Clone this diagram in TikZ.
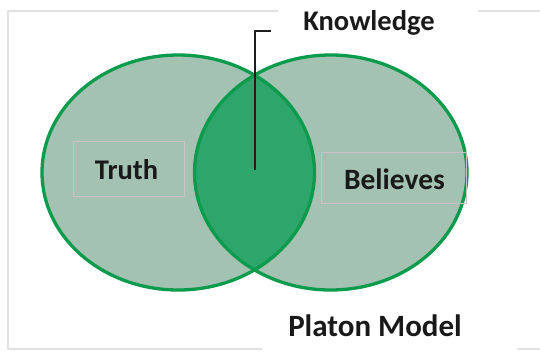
\documentclass[tikz,border=0pt]{standalone}
\usepackage{fontspec}
\setmainfont{Carlito}
\definecolor{vfill}{HTML}{A3C2B1}
\definecolor{lensfill}{HTML}{2EA56B}
\definecolor{vstroke}{HTML}{0B9B4C}
\definecolor{framegray}{HTML}{E2E2E2}
\definecolor{boxgray}{HTML}{CDBFC6}
\definecolor{leader}{HTML}{1E1E1E}
\tikzset{
  framepart/.style={draw=framegray, line width=2pt},
  vring/.style={draw=vstroke, line width=3.3pt},
  tbox/.style={draw=boxgray, line width=0.8pt, inner sep=0pt},
  lbl/.style={anchor=base, inner sep=0pt, text=black!90, font=\fontsize{27}{30}\selectfont\bfseries},
  leadline/.style={draw=leader, line width=1.6pt}
}
\begin{document}
\begin{tikzpicture}[x=1pt,y=-1pt]
\useasboundingbox (0,0) rectangle (540,351);
% frame
\draw[framepart] (278,11) -- (8,11) -- (8,349) -- (262,349);
\draw[framepart] (478,11) -- (540,11);
\draw[framepart] (517,349) -- (540,349);
% ellipses
\coordinate (lc) at (178.25,172.5);
\coordinate (rc) at (330.75,172.5);
\fill[vfill] (lc) ellipse [x radius=136.25pt, y radius=117.5pt];
\fill[vfill] (rc) ellipse [x radius=136.25pt, y radius=117.5pt];
\begin{scope}
  \clip (lc) ellipse [x radius=136.25pt, y radius=117.5pt];
  \fill[lensfill] (rc) ellipse [x radius=136.25pt, y radius=117.5pt];
\end{scope}
\draw[vring] (lc) ellipse [x radius=136.25pt, y radius=117.5pt];
\draw[vring] (rc) ellipse [x radius=136.25pt, y radius=117.5pt];
% text boxes
\node[tbox, minimum width=111pt, minimum height=55pt] (truthbox) at (128.5,168.5) {};
\node[tbox, minimum width=145pt, minimum height=51pt] (belbox) at (393.5,177.5) {};
\node[lbl, font=\fontsize{28.5}{30}\selectfont\bfseries] (truth) at (126.5,179) {Truth};
\node[lbl, font=\fontsize{29.5}{32}\selectfont\bfseries] (bel) at (394.5,189) {Believes};
% labels
\node[lbl, font=\fontsize{28.5}{30}\selectfont\bfseries] (know) at (369,30.3) {Knowledge};
\node[lbl, font=\fontsize{31}{34}\selectfont\bfseries] (platon) at (375,336) {Platon Model};
% leader
\coordinate (lensmid) at (255,170);
\coordinate (bend) at (255,31);
\coordinate (tipend) at (271,31);
\draw[leadline] (lensmid) -- (bend) -- (tipend);
\end{tikzpicture}
\end{document}
